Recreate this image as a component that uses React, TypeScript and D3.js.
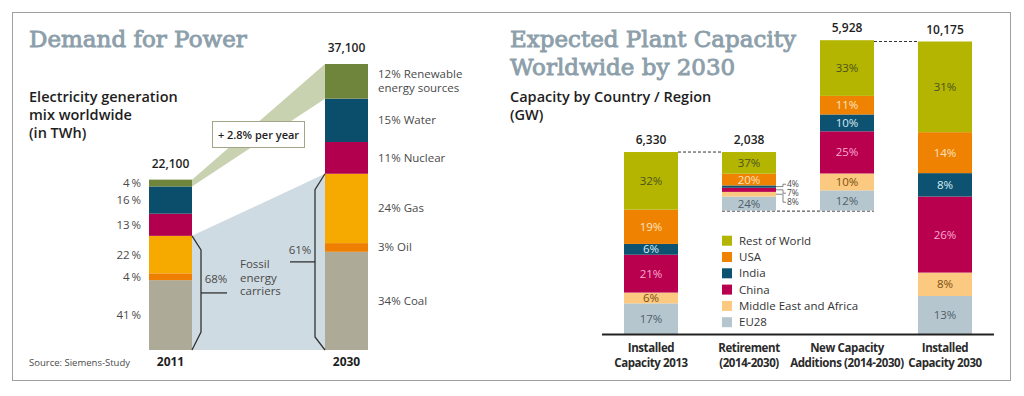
import React from "react";
import * as d3 from "d3";

// left panel: electricity generation mix (TWh)
const years = ["2011", "2030"];
const yearTotals = [22100, 37100];
const energySources = ["Coal", "Oil", "Gas", "Nuclear", "Water", "Renewable energy sources"];
const share2011 = [41, 4, 22, 13, 16, 4];
const share2030 = [34, 3, 24, 11, 15, 12];
const fossilShare = [68, 61];
const growthLabel = "+ 2.8% per year";

// right panel: plant capacity by region (GW)
const stages = ["Installed 2013", "Retirement", "New Additions", "Installed 2030"];
const stageLines = [
  ["Installed", "Capacity 2013"],
  ["Retirement", "(2014-2030)"],
  ["New Capacity", "Additions (2014-2030)"],
  ["Installed", "Capacity 2030"],
];
const stageTotals = [6330, 2038, 5928, 10175];
const regions = ["EU28", "Middle East and Africa", "China", "India", "USA", "Rest of World"];
const shareInstalled2013 = [17, 6, 21, 6, 19, 32];
const shareRetirement = [24, 8, 7, 4, 20, 37];
const shareAdditions = [12, 10, 25, 10, 11, 33];
const shareInstalled2030 = [13, 8, 26, 8, 14, 31];

const energyColors = ["#adab98", "#ee7f00", "#f6aa00", "#b2004f", "#0b4e6b", "#70853c"];
const regionColors = ["#b6c6cf", "#fbc97f", "#b8004f", "#0d5270", "#ef8200", "#b3b500"];
const regionText = ["#4f5f68", "#7a4f12", "#f8a9cf", "#d8ecf5", "#fde3c0", "#4d5320"];

const SANS = "'Open Sans', sans-serif";
const SERIF = "'DejaVu Serif', serif";
const fmt = d3.format(",");

const titleStyle = {
  fontFamily: SERIF,
  fontSize: 23,
  fill: "#8d9fab",
  stroke: "#8d9fab",
  strokeWidth: 0.9,
};

const App = () => {
  // ---------- left scales
  const yL = d3.scaleLinear().domain([0, 37100]).range([350, 64]);
  const xL = d3.scaleBand().domain(years).range([149, 368]).paddingInner(133 / 176).paddingOuter(0);
  const bwL = xL.bandwidth();

  const energyRows = years.map((year, i) => {
    const shares = i === 0 ? share2011 : share2030;
    const sum = d3.sum(shares);
    const row: any = { year };
    energySources.forEach((k, j) => (row[k] = (shares[j] / sum) * yearTotals[i]));
    return row;
  });
  const energyStack = d3.stack().keys(energySources)(energyRows);

  const x1r = xL("2011")! + bwL; // right edge 2011
  const x2l = xL("2030")!; // left edge 2030
  const renew = energyStack[5];
  const fossilTop = energyStack[2];
  const greenWedge = [
    [x1r, yL(renew[0][1])],
    [x2l, yL(renew[1][1])],
    [x2l, yL(renew[1][0])],
    [x1r, yL(renew[0][0])],
  ];
  const blueWedge = [
    [x1r, yL(fossilTop[0][1])],
    [x2l, yL(fossilTop[1][1])],
    [x2l, yL(0)],
    [x1r, yL(0)],
  ];
  const poly = (p: number[][]) => "M" + p.map((d) => d.join(",")).join("L") + "Z";

  const f1 = yL(fossilTop[0][1]);
  const f2 = yL(fossilTop[1][1]);
  const y0L = yL(0);
  const bracket1 = `M${x1r},${f1}L${x1r + 9},${f1 + 14}V${y0L - 18}L${x1r},${y0L}`;
  const bracket2 = `M${x2l},${f2}L${x2l - 10},${f2 + 16}V${y0L - 13}L${x2l},${y0L}`;
  const mid1 = (f1 + y0L) / 2;
  const mid2 = (f2 + y0L) / 2;

  // ---------- right scales
  const yR = d3.scaleLinear().domain([0, 10175]).range([334, 41.5]);
  const xR = d3.scaleBand().domain(stages).range([602, 994]).paddingInner(0.449).paddingOuter(0.2245);
  const bwR = xR.bandwidth();
  const stageShares = [shareInstalled2013, shareRetirement, shareAdditions, shareInstalled2030];
  const netBase = stageTotals[0] - stageTotals[1];
  const bases = [0, netBase, netBase, 0];
  const stageStacks = stages.map((s, i) => {
    const sum = d3.sum(stageShares[i]);
    let acc = bases[i];
    return regions.map((r, j) => {
      const v = (stageShares[i][j] / sum) * stageTotals[i];
      const seg = { region: j, share: stageShares[i][j], y0: acc, y1: acc + v };
      acc += v;
      return seg;
    });
  });
  const smallRetire = [3, 2, 1]; // India, China, Middle East: labelled outside
  const retire = stageStacks[1];
  const smallCenter = d3.mean(smallRetire, (j) => yR((retire[j].y0 + retire[j].y1) / 2))!;
  const retRight = xR(stages[1])! + bwR;

  return (
    <svg width={1024} height={396} style={{ position: "absolute", left: 0, top: 0, background: "#fff" }}>
      <rect x={12.5} y={12.5} width={998} height={368} fill="none" stroke="#a0a0a0" />

      {/* ---------- LEFT: Demand for Power */}
      <text x={29} y={47} {...titleStyle}>
        Demand for Power
      </text>
      {["Electricity generation", "mix worldwide", "(in TWh)"].map((t, i) => (
        <text key={t} x={29} y={102 + i * 18} fontFamily={SANS} fontWeight={600} fontSize={14.5} fill="#1e1e1e">
          {t}
        </text>
      ))}

      <path d={poly(blueWedge)} fill="#cfdbe2" />
      <path d={poly(greenWedge)} fill="#c8d2b0" />

      {energyStack.map((layer, j) =>
        layer.map((d, i) => (
          <rect
            key={`${j}-${i}`}
            x={xL(years[i])}
            y={yL(d[1])}
            width={bwL}
            height={yL(d[0]) - yL(d[1])}
            fill={energyColors[j]}
          />
        ))
      )}

      {/* 2011 share labels */}
      {energyStack.map((layer, j) => (
        <text
          key={`l11-${j}`}
          x={xL("2011")! - 8}
          y={yL((layer[0][0] + layer[0][1]) / 2)}
          dy="0.35em"
          textAnchor="end"
          fontFamily={SANS}
          fontSize={11.5}
          fill="#4a4a4a"
        >
          {share2011[j]}
          {"\u2009%"}
        </text>
      ))}
      {/* 2030 share labels */}
      {energyStack.map((layer, j) => {
        const yc = yL((layer[1][0] + layer[1][1]) / 2);
        const name = energySources[j];
        const lines = name === "Renewable energy sources" ? [`${share2030[j]}% Renewable`, "energy sources"] : [`${share2030[j]}% ${name}`];
        return (
          <text key={`l30-${j}`} x={x2l + bwL + 10} y={yc - (lines.length - 1) * 7} fontFamily={SANS} fontSize={11.5} fill="#4a4a4a">
            {lines.map((t, k) => (
              <tspan key={k} x={x2l + bwL + 10} dy={k === 0 ? "0.35em" : 14}>
                {t}
              </tspan>
            ))}
          </text>
        );
      })}

      {/* totals and year labels */}
      {years.map((yr, i) => (
        <g key={yr}>
          <text x={xL(yr)! + bwL / 2} y={yL(yearTotals[i]) - 12} textAnchor="middle" fontFamily={SANS} fontWeight={600} fontSize={12} fill="#1e1e1e">
            {fmt(yearTotals[i])}
          </text>
          <text x={xL(yr)! + bwL / 2} y={366} textAnchor="middle" fontFamily={SANS} fontWeight={700} fontSize={12} fill="#1e1e1e">
            {yr}
          </text>
        </g>
      ))}

      {/* growth box */}
      <rect x={212.5} y={121.5} width={92} height={26} fill="#fff" stroke="#a3a488" />
      <text x={258.5} y={138.5} textAnchor="middle" fontFamily={SANS} fontWeight={600} fontSize={11} fill="#1e1e1e">
        {growthLabel}
      </text>

      {/* fossil brackets */}
      <path d={bracket1} fill="none" stroke="#333" strokeWidth={1.3} />
      <path d={`M${x1r + 9},${mid1}H${x1r + 35}`} stroke="#333" strokeWidth={1.3} />
      <path d={bracket2} fill="none" stroke="#333" strokeWidth={1.3} />
      <path d={`M${x2l - 10},${mid2}H${x2l - 35}`} stroke="#333" strokeWidth={1.3} />
      <text x={216} y={283} textAnchor="middle" fontFamily={SANS} fontSize={11.5} fill="#4a4a4a">
        {fossilShare[0]}%
      </text>
      <text x={300} y={254} textAnchor="middle" fontFamily={SANS} fontSize={11.5} fill="#4a4a4a">
        {fossilShare[1]}%
      </text>
      {["Fossil", "energy", "carriers"].map((t, i) => (
        <text key={t} x={240} y={268 + i * 13.5} fontFamily={SANS} fontSize={11.5} fill="#4a4a4a">
          {t}
        </text>
      ))}
      <text x={29} y={366} fontFamily={SANS} fontSize={9.5} fill="#4a4a4a">
        Source: Siemens-Study
      </text>

      {/* ---------- RIGHT: Expected Plant Capacity */}
      {["Expected Plant Capacity", "Worldwide by 2030"].map((t, i) => (
        <text key={t} x={510} y={47 + i * 28} {...titleStyle}>
          {t}
        </text>
      ))}
      {["Capacity by Country / Region", "(GW)"].map((t, i) => (
        <text key={t} x={510} y={102 + i * 18} fontFamily={SANS} fontWeight={600} fontSize={14.5} fill="#1e1e1e">
          {t}
        </text>
      ))}

      {/* dashed waterfall connectors */}
      <g stroke="#333" strokeDasharray="3,2" strokeWidth={1}>
        <line x1={xR(stages[0])! + bwR} x2={xR(stages[1])!} y1={yR(stageTotals[0])} y2={yR(stageTotals[0])} />
        <line x1={xR(stages[1])!} x2={xR(stages[2])! + bwR} y1={yR(netBase) + 0.5} y2={yR(netBase) + 0.5} />
        <line
          x1={xR(stages[2])! + bwR}
          x2={xR(stages[3])!}
          y1={yR(stageTotals[3])}
          y2={yR(stageTotals[3])}
        />
      </g>

      {stageStacks.map((segs, i) => (
        <g key={stages[i]}>
          {segs.map((s) => (
            <rect
              key={s.region}
              x={xR(stages[i])}
              y={yR(s.y1)}
              width={bwR}
              height={yR(s.y0) - yR(s.y1)}
              fill={regionColors[s.region]}
            />
          ))}
          {segs
            .filter((s) => !(i === 1 && smallRetire.includes(s.region)))
            .map((s) => (
              <text
                key={`t${s.region}`}
                x={xR(stages[i])! + bwR / 2}
                y={yR((s.y0 + s.y1) / 2)}
                dy="0.35em"
                textAnchor="middle"
                fontFamily={SANS}
                fontSize={11.5}
                fill={regionText[s.region]}
              >
                {s.share}%
              </text>
            ))}
          <text
            x={xR(stages[i])! + bwR / 2}
            y={yR(segs[segs.length - 1].y1) - 8}
            textAnchor="middle"
            fontFamily={SANS}
            fontWeight={600}
            fontSize={12}
            fill="#1e1e1e"
          >
            {fmt(stageTotals[i])}
          </text>
          {stageLines[i].map((t, k) => (
            <text
              key={t}
              x={xR(stages[i])! + bwR / 2}
              y={352 + k * 14.5}
              textAnchor="middle"
              fontFamily={SANS}
              fontWeight={700}
              fontSize={11.5}
              letterSpacing={-0.4}
              fill="#2a2a2a"
            >
              {t}
            </text>
          ))}
        </g>
      ))}

      {/* small retirement shares labelled outside */}
      {smallRetire.map((j, k) => {
        const s = retire[j];
        const yc = yR((s.y0 + s.y1) / 2);
        const ly = smallCenter + 3 + (k - 1) * 9;
        return (
          <g key={`sr${j}`}>
            <path d={`M${retRight},${yc}H${retRight + 7}V${ly}H${retRight + 10}`} fill="none" stroke="#666" strokeWidth={0.8} />
            <text x={retRight + 11} y={ly} dy="0.35em" fontFamily={SANS} fontSize={8.5} fill="#4a4a4a">
              {s.share}%
            </text>
          </g>
        );
      })}

      {/* legend */}
      {regions
        .map((r, j) => ({ r, j }))
        .reverse()
        .map(({ r, j }, k) => (
          <g key={r} transform={`translate(722,${240.7 + k * 16.3})`}>
            <rect x={0} y={-5} width={10} height={10} fill={regionColors[j]} />
            <text x={17} y={0} dy="0.35em" fontFamily={SANS} fontSize={11.5} fill="#333">
              {r}
            </text>
          </g>
        ))}

      <line x1={602} x2={994} y1={334.5} y2={334.5} stroke="#222" strokeWidth={1.8} />
    </svg>
  );
};

export default App;
